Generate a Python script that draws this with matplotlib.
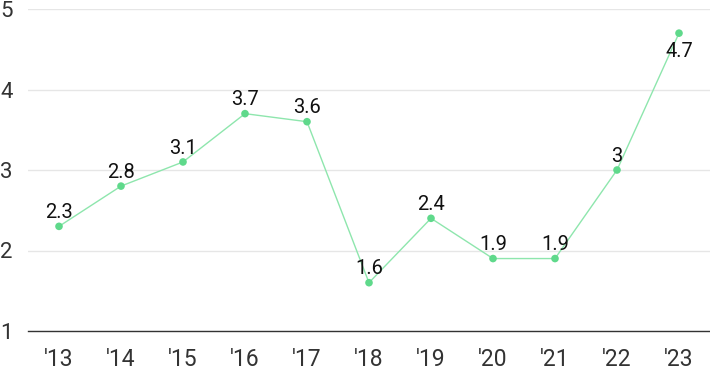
import matplotlib
matplotlib.use("Agg")
import matplotlib.pyplot as plt

# data
years = ["'13", "'14", "'15", "'16", "'17", "'18", "'19", "'20", "'21", "'22", "'23"]
values = [2.3, 2.8, 3.1, 3.7, 3.6, 1.6, 2.4, 1.9, 1.9, 3, 4.7]
yticks = [1, 2, 3, 4, 5]

plt.rcParams['font.family'] = ['Roboto', 'DejaVu Sans']

fig = plt.figure(figsize=(7.1, 3.71), dpi=100)
ax = fig.add_axes([28 / 710, 40 / 371, 682 / 710, 322 / 371])

x = list(range(len(years)))
ax.plot(x, values, color='#8ee6ad', lw=1, zorder=2)
ax.scatter(x, values, s=30, color='#5fd98b', zorder=3, edgecolors='none')

# value labels, above the point except at the top
for xi, v in zip(x, values):
    if v >= 4.5:
        ax.annotate('%g' % v, (xi, v), xytext=(0, -17), textcoords='offset points',
                    ha='center', va='baseline', fontsize=14.5, color='#111111')
    else:
        ax.annotate('%g' % v, (xi, v), xytext=(0, 6), textcoords='offset points',
                    ha='center', va='baseline', fontsize=14.5, color='#111111')

ax.set_xlim(-0.5, len(years) - 0.5)
ax.set_ylim(1, 5)
ax.set_yticks(yticks)
ax.set_yticklabels([str(t) for t in yticks])
ax.set_xticks(x)
ax.set_xticklabels(years)

for t in ax.get_yticklabels():
    t.set_horizontalalignment('left')
ax.tick_params(axis='y', length=0, pad=20, labelsize=16, labelcolor='#333333')
ax.tick_params(axis='x', length=0, pad=12, labelsize=16.5, labelcolor='#333333')

ax.grid(axis='y', color='#e6e6e6', lw=1)
ax.set_axisbelow(True)
for s in ['top', 'right', 'left']:
    ax.spines[s].set_visible(False)
ax.spines['bottom'].set_color('#333333')
ax.spines['bottom'].set_linewidth(1)

fig.savefig('out.png', dpi=100)
